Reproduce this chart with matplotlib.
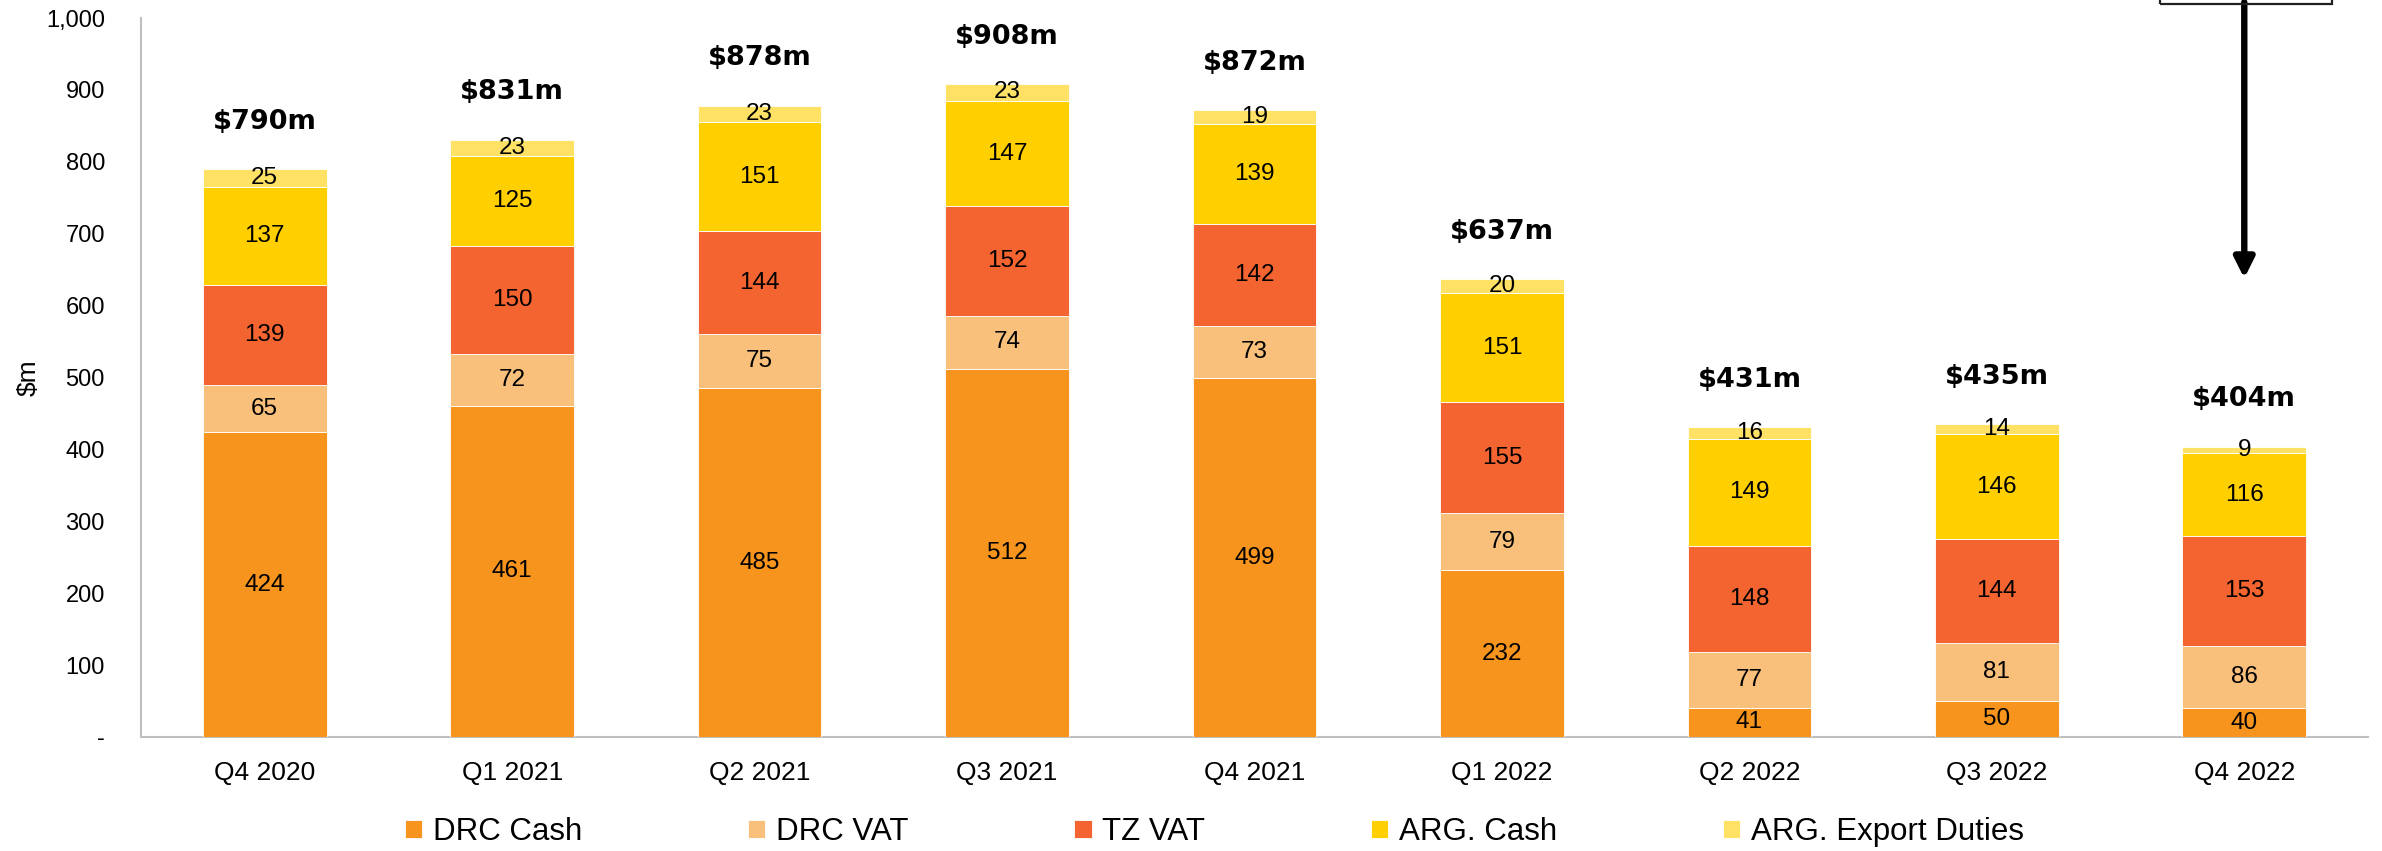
import numpy as np
import matplotlib
matplotlib.use("Agg")
import matplotlib.pyplot as plt
from matplotlib.patches import Rectangle

# ─── Data ─────────────────────────────────────────────────────────────────────

quarters = ["Q4 2020", "Q1 2021", "Q2 2021", "Q3 2021", "Q4 2021",
            "Q1 2022", "Q2 2022", "Q3 2022", "Q4 2022"]

drc_cash = [424, 461, 485, 512, 499, 232, 41, 50, 40]
drc_vat = [65, 72, 75, 74, 73, 79, 77, 81, 86]
tz_vat = [139, 150, 144, 152, 142, 155, 148, 144, 153]
arg_cash = [137, 125, 151, 147, 139, 151, 149, 146, 116]
arg_export = [25, 23, 23, 23, 19, 20, 16, 14, 9]

totals = [790, 831, 878, 908, 872, 637, 431, 435, 404]

series_names = ["DRC Cash", "DRC VAT", "TZ VAT", "ARG. Cash", "ARG. Export Duties"]
series_colors = ["#F7941E", "#F9C07C", "#F36430", "#FFCF00", "#FFE265"]

yticks = np.arange(0, 1001, 100)

# ─── Style ────────────────────────────────────────────────────────────────────

plt.rcParams["font.family"] = ["Liberation Sans", "DejaVu Sans"]

fig = plt.figure(figsize=(23.82, 8.51), dpi=100)
ax = fig.add_axes([141 / 2382, 1 - 737 / 851, (2368 - 141) / 2382, (737 - 18) / 851])

x = np.arange(len(quarters))
bottom = np.zeros(len(quarters))
all_series = [drc_cash, drc_vat, tz_vat, arg_cash, arg_export]

for vals, name, color in zip(all_series, series_names, series_colors):
    vals = np.array(vals, dtype=float)
    ax.bar(x, vals, 0.5, bottom=bottom, color=color, label=name,
           edgecolor="white", linewidth=0.6, zorder=3)
    for xi, b, v in zip(x, bottom, vals):
        ax.text(xi, b + v / 2, f"{int(v)}", ha="center", va="center",
                fontsize=17.5, color="black", zorder=4)
    bottom += vals

for xi, t in zip(x, totals):
    ax.text(xi, t + 66, f"${t}m", ha="center", va="center",
            fontsize=19.5, fontweight="bold", family="DejaVu Sans", color="black")

ax.set_xlim(-0.5, 8.5)
ax.set_ylim(0, 1000)
ax.set_xticks(x)
ax.set_xticklabels(quarters, fontsize=19)
ax.set_yticks(yticks)
ax.set_yticklabels(["-" if v == 0 else f"{v:,}" for v in yticks], fontsize=17)
ax.tick_params(axis="both", length=0)
ax.tick_params(axis="x", pad=17)
ax.tick_params(axis="y", pad=26)
ax.set_ylabel("$m", fontsize=19, labelpad=4)

for side in ["top", "right"]:
    ax.spines[side].set_visible(False)
for side in ["left", "bottom"]:
    ax.spines[side].set_color("#BFBFBF")
    ax.spines[side].set_linewidth(1.5)

# arrow from the callout box down to the last bar
ax.annotate("", xy=(8, 638), xytext=(8, 1022), xycoords="data",
            textcoords="data", annotation_clip=False,
            arrowprops=dict(arrowstyle="-|>", color="black", lw=4.6,
                            mutation_scale=30, shrinkA=0, shrinkB=0))
fig.patches.append(Rectangle((2160 / 2382, 1 - 4 / 851), 172 / 2382, 0.1,
                             transform=fig.transFigure, fill=False,
                             edgecolor="#222222", linewidth=1.6,
                             clip_on=False))

fig.legend(loc="center", bbox_to_anchor=(0.5099, 1 - 832 / 851), ncol=5,
           frameon=False, fontsize=22.5, handlelength=0.55, handleheight=0.55,
           handletextpad=0.35, columnspacing=5.3, borderaxespad=0)

fig.savefig("out.png", dpi=100)
